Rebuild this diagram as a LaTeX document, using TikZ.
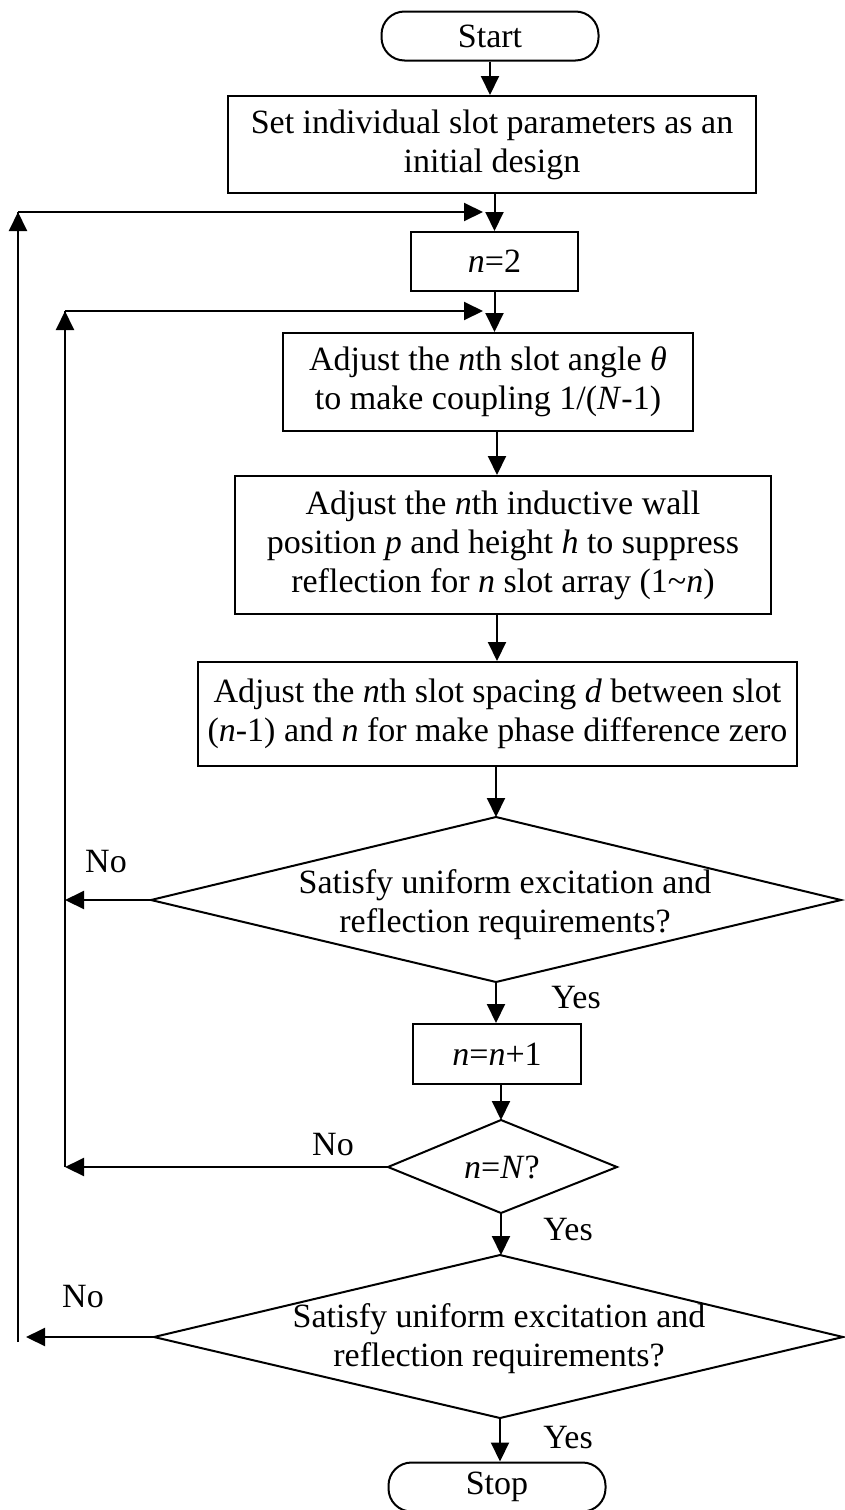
\documentclass[tikz,border=0pt]{standalone}
\usepackage{fontspec}
\setmainfont{Liberation Serif}
\usetikzlibrary{arrows.meta,calc}
\begin{document}
\begin{tikzpicture}[x=1pt,y=-1pt,
  every node/.style={font=\fontsize{34}{39}\selectfont},
  box/.style={draw,line width=2pt,align=center,inner sep=0pt},
  term/.style={draw,line width=2pt,rounded corners=23pt,inner sep=0pt},
  lbl/.style={inner sep=0pt},
  conn/.style={line width=2pt,-{Triangle[length=19pt,width=18pt]}},
  plain/.style={line width=2pt},
  dia/.style={draw,line width=2pt,line join=miter}]
\useasboundingbox (0,0) rectangle (845,1510);
% nodes
\node[term,minimum width=217pt,minimum height=49pt] (start) at (490,36) {Start};
\node[box,minimum width=528pt,minimum height=97pt] (b1) at (492,144.5) {Set individual slot parameters as an\\initial design};
\node[box,minimum width=167pt,minimum height=59pt] (n2) at (494.5,261.5) {\textit{n}=2};
\node[box,minimum width=410pt,minimum height=98pt] (a1) at (488,382) {Adjust the \textit{n}th slot angle \textit{θ}\\to make coupling 1/(\textit{N}-1)};
\node[box,minimum width=536pt,minimum height=138pt] (a2) at (503,545) {Adjust the \textit{n}th inductive wall\\position \textit{p} and height \textit{h} to suppress\\reflection for \textit{n} slot array (1\char`~\textit{n})};
\node[box,minimum width=599pt,minimum height=104pt] (a3) at (497.5,714) {Adjust the \textit{n}th slot spacing \textit{d} between slot\\(\textit{n}-1) and \textit{n} for make phase difference zero};
% diamond 1
\node[lbl,align=center] (d1) at (505,905) {Satisfy uniform excitation and\\reflection requirements?};
\coordinate (d1n) at (496,817);
\coordinate (d1w) at (151,900);
\coordinate (d1e) at (841,900);
\coordinate (d1s) at (496,982);
\draw[dia] (d1n) -- (d1e) -- (d1s) -- (d1w) -- cycle;
\node[box,minimum width=168pt,minimum height=60pt] (nn1) at (497,1054) {\textit{n}=\textit{n}+1};
% diamond 2
\node[lbl] (d2) at (502,1167) {\textit{n}=\textit{N}?};
\coordinate (d2n) at (501,1120);
\coordinate (d2w) at (388,1167);
\coordinate (d2e) at (617,1167);
\coordinate (d2s) at (501,1213);
\draw[dia] (d2n) -- (d2e) -- (d2s) -- (d2w) -- cycle;
% diamond 3
\node[lbl,align=center] (d3) at (499,1339) {Satisfy uniform excitation and\\reflection requirements?};
\coordinate (d3n) at (500,1255);
\coordinate (d3w) at (154,1337);
\coordinate (d3e) at (843,1337);
\coordinate (d3s) at (500,1418);
\draw[dia] (d3n) -- (d3e) -- (d3s) -- (d3w) -- cycle;
\node[term,minimum width=217pt,minimum height=49pt] (stop) at (497,1487) {Stop};
% main flow
\draw[conn] (start.south) -- (start.south |- b1.north);
\draw[conn] (b1.south -| n2.north) -- (n2.north);
\draw[conn] (n2.south) -- (n2.south |- a1.north);
\draw[conn] (a1.south -| 497,0) -- (497,0 |- a2.north);
\draw[conn] (a2.south -| 497,0) -- (497,0 |- a3.north);
\draw[conn] (a3.south -| d1n) -- (d1n);
\draw[conn] (d1s) -- (d1s |- nn1.north);
\draw[conn] (nn1.south -| d2n) -- (d2n);
\draw[conn] (d2s) -- (d2s |- d3n);
\draw[conn] (d3s) -- (d3s |- stop.north);
% loops
\coordinate (L1b) at (18,1342);
\coordinate (L1t) at (18,212);
\coordinate (L1e) at (483,212);
\coordinate (L2b) at (65,1167);
\coordinate (L2t) at (65,311);
\coordinate (L2e) at (483,311);
\draw[conn] (d1w) -- (65,900);
\draw[conn] (d2w) -- (L2b);
\draw[conn] (d3w) -- (26,1337);
\draw[plain] (L1b) -- (L1t);
\draw[conn] (18,260) -- (L1t);
\draw[conn] (L1t) -- (L1e);
\draw[plain] (L2b) -- (L2t);
\draw[conn] (65,360) -- (L2t);
\draw[conn] (L2t) -- (L2e);
% labels
\node[lbl] (no1) at (106,862) {No};
\node[lbl] (yes1) at (576,998) {Yes};
\node[lbl] (no2) at (333,1145) {No};
\node[lbl] (yes2) at (568,1230) {Yes};
\node[lbl] (no3) at (83,1297) {No};
\node[lbl] (yes3) at (568,1438) {Yes};
\end{tikzpicture}
\end{document}
